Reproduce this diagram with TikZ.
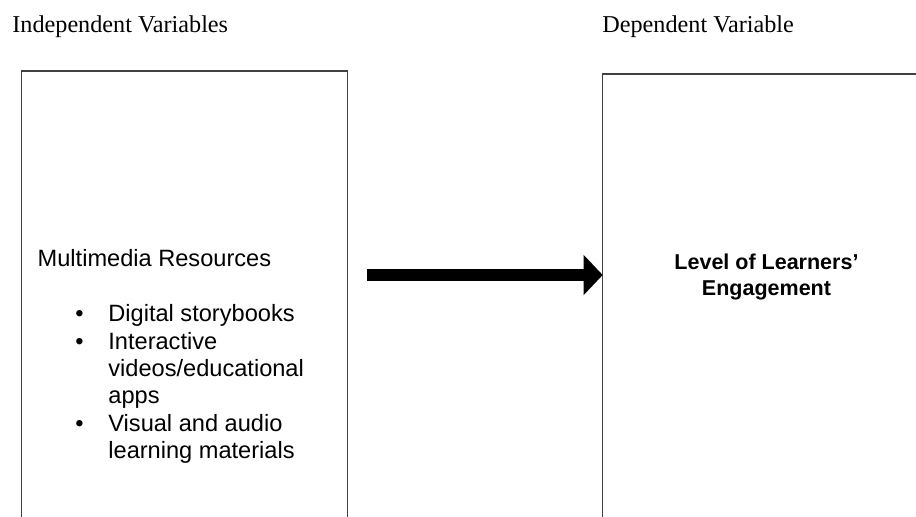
\documentclass[tikz,border=0pt]{standalone}
\usepackage{fontspec}
\setmainfont{Liberation Serif}
\setsansfont{Liberation Sans}
\usetikzlibrary{arrows.meta}

\begin{document}
\begin{tikzpicture}[
        x=0.5pt, y=-0.5pt,
        heading/.style={anchor=base west, inner sep=0pt, font=\fontsize{12.1}{14}\selectfont},
        varbox/.style={rectangle, draw=black!75, line width=0.7pt, inner sep=0pt, outer sep=0pt, anchor=north west},
        item/.style={anchor=base west, inner sep=0pt, font=\sffamily\fontsize{11.8}{13.7}\selectfont},
        outcome/.style={anchor=base, inner sep=0pt, font=\sffamily\bfseries\fontsize{10.75}{13}\selectfont},
        flow/.style={line width=5.75pt, -{Triangle[length=9.5pt, width=19.5pt]}}
    ]
        \useasboundingbox (0,0) rectangle (916,516);
        \clip (0,0) rectangle (916,516);

        \node[heading] (ivlabel) at (12,32.7) {Independent Variables};
        \node[heading] (dvlabel) at (602,32.7) {Dependent Variable};

        \node[varbox, minimum width=162.8pt, minimum height=245pt] (ivbox) at (21.7,71) {};
        \node[varbox, minimum width=170pt, minimum height=245pt] (dvbox) at (602.7,74) {};

        \node[item] (media) at (37.3,266.7) {Multimedia Resources};
        \foreach \y/\txt [count=\i] in {321.7/{Digital storybooks},
                349.1/{Interactive\\videos/educational\\apps},
                431.3/{Visual and audio\\learning materials}} {
            \node[item] (bullet\i) at (75,\y) {•};
            \node[item] (media\i) at (108,\y) {\begin{tabular}[t]{@{}l@{}}\txt\end{tabular}};
        }

        \node[outcome] (engage) at (766.5,269)
            {\begin{tabular}[t]{@{}c@{}}Level of Learners’\\Engagement\end{tabular}};

        \coordinate (flowtail) at (367,275);
        \draw[flow] (flowtail) -- (flowtail -| dvbox.west);
    \end{tikzpicture}
\end{document}
